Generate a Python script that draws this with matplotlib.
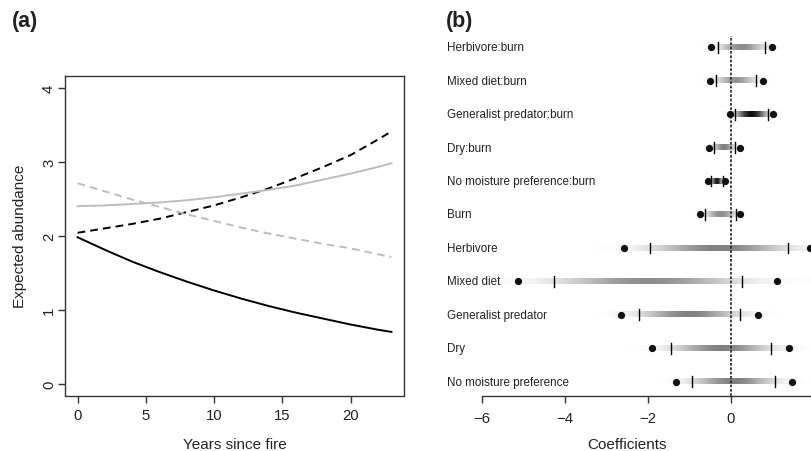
import numpy as np
import matplotlib
matplotlib.use("Agg")
import matplotlib.pyplot as plt

plt.rcParams['font.family'] = ['Liberation Sans', 'DejaVu Sans']

# Panel (a): expected abundance vs years since fire
years = [0, 2, 4, 6, 8, 10, 12, 14, 16, 18, 20, 22, 23]
black_solid = [1.98, 1.81, 1.65, 1.51, 1.38, 1.26, 1.15, 1.05, 0.96, 0.88, 0.80, 0.73, 0.70]
black_dashed = [2.04, 2.10, 2.16, 2.23, 2.32, 2.41, 2.52, 2.64, 2.78, 2.93, 3.09, 3.30, 3.41]
grey_solid = [2.40, 2.41, 2.43, 2.45, 2.48, 2.52, 2.57, 2.62, 2.68, 2.76, 2.84, 2.93, 2.98]
grey_dashed = [2.71, 2.60, 2.49, 2.39, 2.29, 2.20, 2.11, 2.03, 1.96, 1.89, 1.83, 1.75, 1.71]

# Panel (b): coefficients (top to bottom)
terms = ["Herbivore:burn", "Mixed diet:burn", "Generalist predator:burn", "Dry:burn",
         "No moisture preference:burn", "Burn", "Herbivore", "Mixed diet",
         "Generalist predator", "Dry", "No moisture preference"]
outer_lo = [-0.48, -0.50, -0.02, -0.52, -0.55, -0.75, -2.58, -5.12, -2.65, -1.89, -1.32]
inner_lo = [-0.31, -0.36, 0.10, -0.42, -0.47, -0.62, -1.94, -4.25, -2.21, -1.44, -0.95]
inner_hi = [0.81, 0.61, 0.88, 0.10, -0.20, 0.12, 1.36, 0.27, 0.22, 0.97, 1.07]
outer_hi = [0.99, 0.77, 1.00, 0.21, -0.15, 0.22, 1.91, 1.10, 0.66, 1.40, 1.46]
shade = [0.45, 0.42, 0.95, 0.5, 0.9, 0.45, 0.5, 0.45, 0.5, 0.5, 0.5]

W, H = 811, 452
fig = plt.figure(figsize=(W / 100, H / 100), dpi=100)

tick_fs = 10.7
lab_fs = 11
ink = '#222222'

# ---- panel (a)
ax1 = fig.add_axes([65 / W, 1 - 396.5 / H, 339 / W, 319.5 / H])
ax1.plot(years, black_solid, color='black', lw=1.4)
ax1.plot(years, black_dashed, color='black', lw=1.4, linestyle=(0, (4, 2.6)))
ax1.plot(years, grey_solid, color='#bdbdbd', lw=1.4)
ax1.plot(years, grey_dashed, color='#bdbdbd', lw=1.4, linestyle=(0, (4, 2.6)))
ax1.set_xlim(-0.92, 23.92)
ax1.set_ylim(-0.16, 4.16)
ax1.set_xticks([0, 5, 10, 15, 20])
ax1.set_yticks([0, 1, 2, 3, 4])
ax1.tick_params(axis='x', length=5, width=1, color='#333333', labelsize=tick_fs,
                labelcolor=ink, pad=4)
ax1.tick_params(axis='y', length=5, width=1, color='#333333', labelsize=tick_fs,
                labelcolor=ink, pad=1.5)
for lab in ax1.get_yticklabels():
    lab.set_rotation(90)
    lab.set_va('center')
for sp in ax1.spines.values():
    sp.set_color('#333333')
    sp.set_linewidth(1)
fig.text((65 + 404) / 2 / W, 1 - 449.5 / H, 'Years since fire', ha='center',
         va='baseline', fontsize=lab_fs, color=ink)
fig.text(20 / W, 1 - 236.75 / H, 'Expected abundance', ha='center', va='center',
         rotation=90, fontsize=lab_fs, color=ink)
fig.text(12 / W, 1 - 22 / H, '(a)', ha='left', va='center', fontsize=15.5,
         fontweight='bold', color=ink)

# ---- panel (b)
ax2 = fig.add_axes([430 / W, 1 - 396.5 / H, 393.4 / W, 359.5 / H])
ypos = np.arange(len(terms))[::-1] + 1
bar_h = 0.08
for i, y in enumerate(ypos):
    mu = (inner_lo[i] + inner_hi[i]) / 2
    sd = (inner_hi[i] - inner_lo[i]) / (2 * 1.645)
    xs = np.linspace(mu - 3.5 * sd, mu + 3.5 * sd, 400)
    a = shade[i] * np.exp(-0.5 * ((xs - mu) / sd) ** 2)
    img = np.zeros((1, len(xs), 4))
    img[..., 3] = a
    ax2.imshow(img, extent=[xs[0], xs[-1], y - bar_h, y + bar_h], aspect='auto',
               interpolation='bilinear', zorder=1)
    ax2.plot([inner_lo[i]] * 2, [y - 0.16, y + 0.16], color='black', lw=1, zorder=3)
    ax2.plot([inner_hi[i]] * 2, [y - 0.16, y + 0.16], color='black', lw=1, zorder=3)
    ax2.plot([outer_lo[i], outer_hi[i]], [y, y], 'o', color='#111111', ms=4.2,
             zorder=4, linestyle='none')
    ax2.text(-6.835, y, terms[i], ha='left', va='center', fontsize=8.4, color=ink)

ax2.axvline(0, color='#222222', lw=1.2, linestyle=(0, (1.6, 1.0)), zorder=2)
ax2.set_xlim(-7.244, 2.224)
ax2.set_ylim(0.587, 11.338)
ax2.set_xticks([-6, -4, -2, 0, 2])
ax2.set_xticklabels(['\u22126', '\u22124', '\u22122', '0', '2'])
ax2.set_yticks([])
for s in ['top', 'right', 'left']:
    ax2.spines[s].set_visible(False)
ax2.spines['bottom'].set_bounds(-6, 2)
ax2.spines['bottom'].set_color('#333333')
ax2.spines['bottom'].set_linewidth(1)
ax2.tick_params(axis='x', length=5, width=1, color='#333333', labelsize=tick_fs,
                labelcolor=ink, pad=6)
ax2.patch.set_alpha(0)
fig.text((430 + 823.4) / 2 / W, 1 - 449.5 / H, 'Coefficients', ha='center',
         va='baseline', fontsize=lab_fs, color=ink)
fig.text(446 / W, 1 - 22 / H, '(b)', ha='left', va='center', fontsize=15.5,
         fontweight='bold', color=ink)

fig.savefig('out.png', dpi=100)
